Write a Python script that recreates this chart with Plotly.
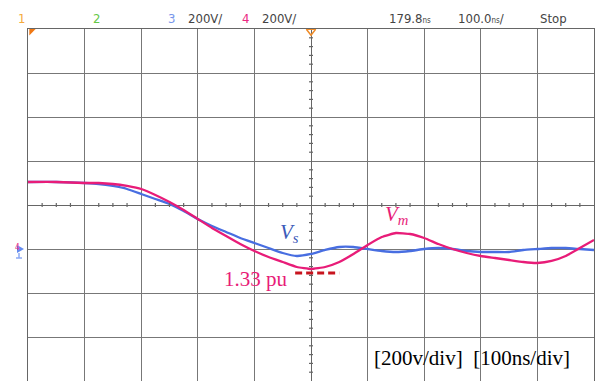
import plotly.graph_objects as go

# ---- data (time in ns, voltage in V) ----
time_ns = [-500, -450, -400, -375, -350, -325, -300, -275, -250, -225, -200, -175, -150, -125,
           -100, -75, -50, -25, 0, 25, 50, 75, 100, 125, 150, 175, 200, 225, 250, 275,
           300, 325, 350, 375, 400, 425, 450, 475, 500]
# screen readings (pixel rows) of each trace
vs_px = [182, 182, 183, 184, 186, 189, 194, 199, 204, 211, 219, 226, 232, 238,
         243, 248, 253, 256, 254, 250, 247, 247, 249, 251, 252, 251, 249, 248, 249, 251,
         252, 252, 252, 250, 249, 248, 248, 249, 250]
vm_px = [182, 182, 183, 183, 184, 186, 189, 195, 202, 210, 219, 228, 236, 244,
         251, 257, 262, 267, 269, 267, 262, 254, 245, 237, 233, 234, 238, 244, 249, 253,
         256, 258, 260, 262, 263, 261, 256, 248, 240]
# converted to volts (200 V/div, 44 px/div, centre row 205)
vs_volts = [round((205 - p) / 44 * 200, 1) for p in vs_px]
vm_volts = [round((205 - p) / 44 * 200, 1) for p in vm_px]

peak_level_v = round((205 - 273) / 44 * 200, 1)
peak_span_ns = [-28, 50]

W, H = 595, 381
PX0, PX1, PY0 = 28, 594, 29

fig = go.Figure()

fig.add_trace(go.Scatter(x=time_ns, y=vs_volts, mode="lines",
                         line=dict(color="rgb(72,110,225)", width=2.3, shape="spline", smoothing=0.4)))
fig.add_trace(go.Scatter(x=time_ns, y=vm_volts, mode="lines",
                         line=dict(color="rgb(232,28,120)", width=2.3, shape="spline", smoothing=0.4)))
fig.add_trace(go.Scatter(x=peak_span_ns, y=[peak_level_v, peak_level_v], mode="lines",
                         line=dict(color="rgb(200,20,30)", width=2.8, dash="7px,4px")))

shapes = []
# minor ticks on centre lines
for i in range(-20, 21):
    t = i * 25
    if i % 4 == 0:
        continue
    shapes.append(dict(type="line", x0=t, x1=t, y0=-9, y1=9, xref="x", yref="y",
                       line=dict(color="#666", width=1.2)))
for j in range(-20, 21):
    v = j * 40
    if j % 5 == 0:
        continue
    shapes.append(dict(type="line", x0=-3.5, x1=3.5, y0=v, y1=v, xref="x", yref="y",
                       line=dict(color="#666", width=1.2)))
# channel 3/4 ground marker on the left edge
shapes.append(dict(type="path", xref="paper", yref="paper",
                   path=f"M {17/W} {1-245/H} L {24/W} {1-249/H} L {17/W} {1-253/H} Z",
                   fillcolor="rgb(100,140,240)", line=dict(width=0)))
shapes.append(dict(type="line", xref="paper", yref="paper", x0=19 / W, x1=19 / W, y0=1 - 253 / H, y1=1 - 258 / H,
                   line=dict(color="rgb(140,170,245)", width=1.5)))
shapes.append(dict(type="line", xref="paper", yref="paper", x0=16 / W, x1=22 / W, y0=1 - 258 / H, y1=1 - 258 / H,
                   line=dict(color="rgb(140,170,245)", width=1.5)))

fig.update_layout(
    width=W, height=H, margin=dict(l=0, r=0, t=0, b=0),
    paper_bgcolor="white", plot_bgcolor="white", showlegend=False,
    shapes=shapes,
    xaxis=dict(domain=[PX0 / W, PX1 / W], range=[-500, 500], dtick=100, showgrid=True,
               gridcolor="#777", gridwidth=1.3, zeroline=True, zerolinecolor="#666", zerolinewidth=1.3,
               showticklabels=False, showline=True, linecolor="#666", linewidth=1.3, mirror=True, ticks=""),
    yaxis=dict(domain=[0, 1 - PY0 / H], range=[-800, 800], dtick=200, showgrid=True,
               gridcolor="#777", gridwidth=1.3, zeroline=True, zerolinecolor="#666", zerolinewidth=1.3,
               showticklabels=False, showline=True, linecolor="#666", linewidth=1.3, mirror=True, ticks=""),
)

hdr_font = "DejaVu Sans Condensed, Liberation Sans Narrow, DejaVu Sans, sans-serif"
def hdr(x, text, color):
    fig.add_annotation(x=x / W, y=1 - 18 / H, xref="paper", yref="paper", text=text, showarrow=False,
                       xanchor="left", yanchor="middle", font=dict(family=hdr_font, size=13, color=color))

hdr(16, "1", "rgb(245,170,60)")
hdr(91, "2", "rgb(100,200,70)")
hdr(166, "3", "rgb(120,150,235)")
hdr(186, "200V/", "#444")
hdr(240, "4", "rgb(235,40,130)")
hdr(260, "200V/", "#444")
hdr(387, "179.8<span style='font-size:8px'>ns</span>", "#444")
hdr(456, "100.0<span style='font-size:8px'>ns</span>/", "#444")
hdr(538, "Stop", "#444")

serif = "Liberation Serif, Times New Roman, serif"
fig.add_annotation(x=278 / W, y=1 - 233 / H, xref="paper", yref="paper", showarrow=False,
                   text="<i>V</i><sub><i>s</i></sub>", xanchor="left", yanchor="middle",
                   font=dict(family=serif, size=21, color="rgb(60,90,185)"))
fig.add_annotation(x=383 / W, y=1 - 215 / H, xref="paper", yref="paper", showarrow=False,
                   text="<i>V</i><sub><i>m</i></sub>", xanchor="left", yanchor="middle",
                   font=dict(family=serif, size=21, color="rgb(232,28,120)"))
fig.add_annotation(x=222 / W, y=1 - 279 / H, xref="paper", yref="paper", showarrow=False,
                   text="1.33 pu", xanchor="left", yanchor="middle",
                   font=dict(family=serif, size=21, color="rgb(232,28,120)"))
fig.add_annotation(x=372 / W, y=1 - 358 / H, xref="paper", yref="paper", showarrow=False,
                   text="[200v/div]&nbsp;&nbsp;[100ns/div]", xanchor="left", yanchor="middle",
                   font=dict(family=serif, size=21, color="black"))

fig.add_annotation(x=13 / W, y=1 - 247 / H, xref="paper", yref="paper", showarrow=False, text="4",
                   xanchor="left", yanchor="middle",
                   font=dict(family=hdr_font, size=8, color="rgb(235,40,130)"))

# trigger markers
fig.add_trace(go.Scatter(x=[0], y=[790], mode="markers", cliponaxis=False,
                         marker=dict(symbol="triangle-down-open", size=8, color="rgb(240,140,40)", line=dict(width=1.5))))
fig.add_trace(go.Scatter(x=[-494], y=[790], mode="markers", cliponaxis=False,
                         marker=dict(symbol="triangle-nw", size=7, color="rgb(240,120,20)")))

fig.write_html("out.html")
